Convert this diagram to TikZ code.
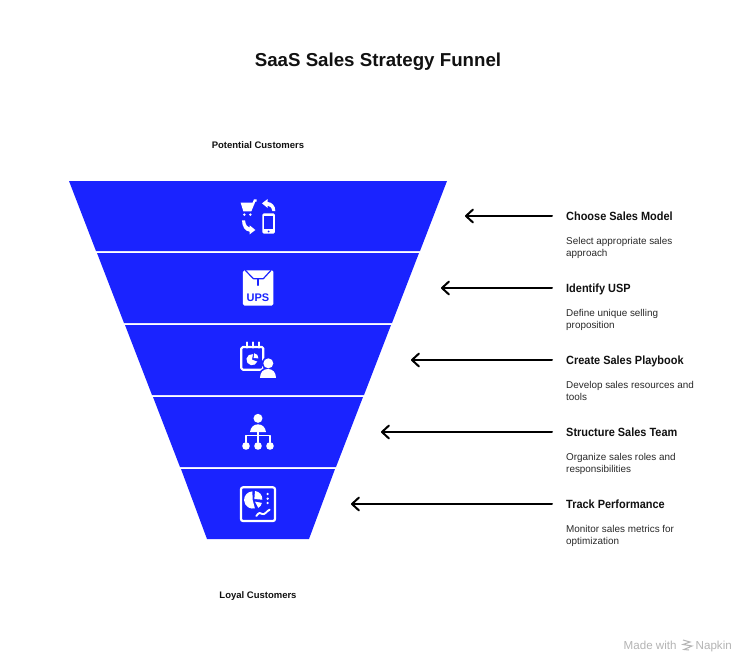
\documentclass[tikz,border=0pt]{standalone}
\usepackage{fontspec}
\setmainfont{Liberation Sans}
\newfontfamily\headfont[FakeStretch=0.92]{Liberation Sans}
\usetikzlibrary{arrows.meta}
\definecolor{fblue}{HTML}{1A23FF}
\definecolor{ink}{HTML}{111111}
\definecolor{wm}{HTML}{B4B4B4}
\tikzset{
  band/.style={fill=fblue,draw=none},
  ptr/.style={draw=black,line width=2pt,line cap=round,-{Straight Barb[length=7pt,width=13pt,line width=2pt,round]}},
  headtext/.style={anchor=base west,inner sep=0pt,font=\headfont\fontsize{11.9}{14}\selectfont\bfseries,text=ink},
  desctext/.style={anchor=base west,inner sep=0pt,align=left,font=\fontsize{9.9}{12}\selectfont,text=ink!90!white},
  captext/.style={anchor=base,inner sep=0pt,font=\fontsize{9.5}{11}\selectfont\bfseries,text=ink},
  ic/.style={fill=white,draw=none},
  icl/.style={draw=white,fill=none,line width=2.2pt,line cap=round,line join=round},
  icb/.style={draw=fblue,fill=none,line width=1.2pt,line cap=round,line join=round},
  zoomA/.style={shift={(220,190)},x=0.3333pt,y=-0.3333pt},
  zoomB/.style={shift={(220,335)},x=0.3333pt,y=-0.3333pt},
  zoomC/.style={shift={(220,405)},x=0.3333pt,y=-0.3333pt}
}
\newcommand{\sect}[5][white]{\fill[#1] (#2) -- ([shift={(#3:#5pt)}]#2) arc[start angle=#3,end angle=#4,radius=#5pt] -- cycle;}
\begin{document}
\begin{tikzpicture}[x=1pt,y=-1pt]
\useasboundingbox (0,0) rectangle (756,672);
\fill[white] (0,0) rectangle (756,672);
\node[anchor=base,inner sep=0pt,font=\fontsize{18.7}{22}\selectfont\bfseries,text=ink] (title) at (378,66.5) {SaaS Sales Strategy Funnel};
\node[captext] (top) at (258,148.5) {Potential Customers};
\node[captext] (bot) at (258,598.5) {Loyal Customers};
% funnel
\fill[band] (69,181) -- (447,181) -- (420,251) -- (96,251) -- cycle;
\fill[band] (97,253) -- (419,253) -- (392,323) -- (124,323) -- cycle;
\fill[band] (125,325) -- (391,325) -- (364,395) -- (152,395) -- cycle;
\fill[band] (153,397) -- (363,397) -- (336,467) -- (180,467) -- cycle;
\fill[band] (181,469) -- (335,469) -- (309,539) -- (207,539) -- cycle;
% labels and arrows
\foreach \n/\yy/\xe/\h/\dA/\dB in {
  a/216/465/Choose Sales Model/Select appropriate sales/approach,
  b/288/441/Identify USP/Define unique selling/proposition,
  c/360/411/Create Sales Playbook/Develop sales resources and/tools,
  d/432/381/Structure Sales Team/Organize sales roles and/responsibilities,
  e/504/351/Track Performance/Monitor sales metrics for/optimization}{
  \node[headtext] (h\n) at (566,\yy+4) {\h};
  \node[desctext] (d\n) at (566,\yy+28) {\dA};
  \node[desctext] (f\n) at (566,\yy+40) {\dB};
  \coordinate (s\n) at (552,\yy);
  \coordinate (t\n) at (\xe,\yy);
  \draw[ptr] (s\n) -- (t\n);
}
% icon 1: cart and phone
\begin{scope}[zoomA]
\fill[ic] (62,38) -- (98,38) -- (102,28) -- (110,28) -- (110,35) -- (106,35) -- (94,64) -- (70,64) -- cycle;
\fill[ic] (73,74) circle (1.4pt);
\fill[ic] (91,74) circle (1.4pt);
\fill[ic] (126,40) -- (143,27) -- (143,36) .. controls (156,37) and (166,47) .. (166,63) -- (157,63) .. controls (155,52) and (150,48) .. (143,47) -- (143,54) -- cycle;
\fill[ic] (106,120) -- (89,133) -- (89,125) .. controls (76,124) and (66,110) .. (66,91) -- (75,91) .. controls (77,105) and (82,112) .. (89,113) -- (89,106) -- cycle;
\fill[ic,rounded corners=1.5pt] (127,70) rectangle (165,131);
\fill[fblue] (133,79) rectangle (159,118);
\fill[fblue] (146,124.5) circle (1pt);
\end{scope}
% icon 2: UPS envelope
\begin{scope}[zoomA]
\fill[ic,rounded corners=1.5pt] (69,241) rectangle (160,347);
\draw[icb] (76,241) -- (100,266) -- (130,266) -- (153,241);
\draw[icb] (114,266) -- (114,286);
\node[inner sep=0pt,font=\fontsize{11}{12}\selectfont\bfseries,text=fblue] (ups) at (114,322) {UPS};
\end{scope}
% icon 3: calendar and presenter
\begin{scope}[zoomB]
\draw[icl,rounded corners=1.5pt] (64,36) rectangle (130,104);
\foreach \x in {80,98,116}{\draw[draw=fblue,line width=3.6pt] (\x,30)--(\x,34);\draw[icl,line width=1.9pt] (\x,22)--(\x,38);}
\coordinate (pa) at (96,74);
\coordinate (pb) at (101,69);
\sect{pa}{80}{340}{5.6}
\sect{pb}{85}{-5}{4.8}
\fill[fblue] (145,85) circle (6.6pt);
\fill[fblue] (113,134) .. controls (113,110) and (128,96) .. (144,96) .. controls (160,96) and (175,110) .. (175,134) -- cycle;
\fill[ic] (145,85) circle (5pt);
\fill[ic] (120,129) .. controls (120,112) and (130,102) .. (144,102) .. controls (158,102) and (168,112) .. (168,129) -- cycle;
\end{scope}
% icon 4: hierarchy
\begin{scope}[zoomC]
\fill[ic] (114,40) circle (4.5pt);
\fill[ic] (90,81) .. controls (92,66) and (102,58) .. (114,58) .. controls (126,58) and (136,66) .. (138,81) -- cycle;
\draw[icl,line width=1.6pt] (78,112) -- (78,92) -- (150,92) -- (150,112);
\draw[icl,line width=1.6pt] (114,80) -- (114,112);
\foreach \x in {78,114,150}{\fill[ic] (\x,123) circle (3.8pt);}
\end{scope}
% icon 5: dashboard
\begin{scope}[zoomC]
\draw[icl,rounded corners=2pt] (63,247) rectangle (165,348);
\coordinate (qa) at (98,285);
\coordinate (qb) at (103,282);
\coordinate (qc) at (105,290);
\sect{qa}{92}{285}{8.6}
\sect{qb}{85}{-5}{8}
\sect{qc}{-10}{-62}{7}
\foreach \y in {267,281,294}{\fill[ic] (143,\y) circle (1.3pt);}
\draw[icl,line width=1.9pt] (109,333) .. controls (116,322) and (122,322) .. (127,327) .. controls (134,331) and (140,318) .. (149,314);
\end{scope}
% watermark
\node[anchor=base west,inner sep=0pt,font=\fontsize{11.6}{13}\selectfont,text=wm] (wma) at (623.5,649) {Made with};
\node[anchor=base west,inner sep=0pt,font=\fontsize{11.6}{13}\selectfont,text=wm] (wmb) at (695.5,649) {Napkin};
\draw[wm,line width=1pt] (683,640) -- (690,642) -- (683,644.5) -- (692,646) -- (684,649.5) -- (689,650);
\end{tikzpicture}
\end{document}
